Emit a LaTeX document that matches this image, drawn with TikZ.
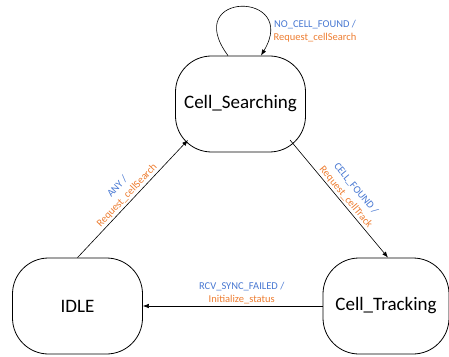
\documentclass[tikz,border=0pt]{standalone}
\usepackage{fontspec}
\setmainfont{Carlito}
\usetikzlibrary{arrows.meta}
\definecolor{evblue}{RGB}{72,120,210}
\definecolor{actorange}{RGB}{237,125,49}
\begin{document}
\begin{tikzpicture}[x=1pt,y=1pt,
  state/.style={draw=black, line width=0.8pt, rounded corners=36pt,
    minimum width=130pt, minimum height=96pt, font=\fontsize{19}{22}\selectfont},
  trans/.style={draw=black, line width=0.6pt, -{Latex[length=6pt,width=4.5pt]}},
  lbl/.style={font=\fontsize{10.5}{13}\selectfont, align=center, inner sep=1.5pt},
  ev/.style={text=evblue},
  act/.style={text=actorange}]
\useasboundingbox (0,0) rectangle (449,356);
% states
\node[state] (cs) at (240.5,252) {Cell\_Searching};
\node[state] (idle) at (77.5,50) {IDLE};
\node[state, minimum width=126pt] (ct) at (386,50) {Cell\_Tracking};
% self loop on Cell_Searching
\draw[trans] ([xshift=-12.5pt]cs.north) .. controls +(-48,65) and +(39,65) .. ([xshift=20.5pt]cs.north);
\node[lbl] (loopl) at (315,324.5) {\textcolor{evblue}{NO\_CELL\_FOUND /}\\\textcolor{actorange}{Request\_cellSearch}};
% IDLE -> Cell_Searching
\draw[trans] (idle.north) -- node[lbl, sloped, above, pos=0.49] (anyl)
  {\textcolor{evblue}{ANY /}\\\textcolor{actorange}{Request\_cellSearch}}
  ([shift={(-52.5pt,-36pt)}]cs.center);
% Cell_Searching -> Cell_Tracking
\draw[trans] ([shift={(49.5pt,-36pt)}]cs.center) -- node[lbl, sloped, above, pos=0.52] (foundl)
  {\textcolor{evblue}{CELL\_FOUND /}\\\textcolor{actorange}{Request\_cellTrack}}
  ([xshift=2pt]ct.north);
% Cell_Tracking -> IDLE
\draw[trans] (ct.west) -- node[lbl, above, pos=0.45] (faill)
  {\textcolor{evblue}{RCV\_SYNC\_FAILED /}\\\textcolor{actorange}{Initialize\_status}}
  (idle.east);
\end{tikzpicture}
\end{document}
